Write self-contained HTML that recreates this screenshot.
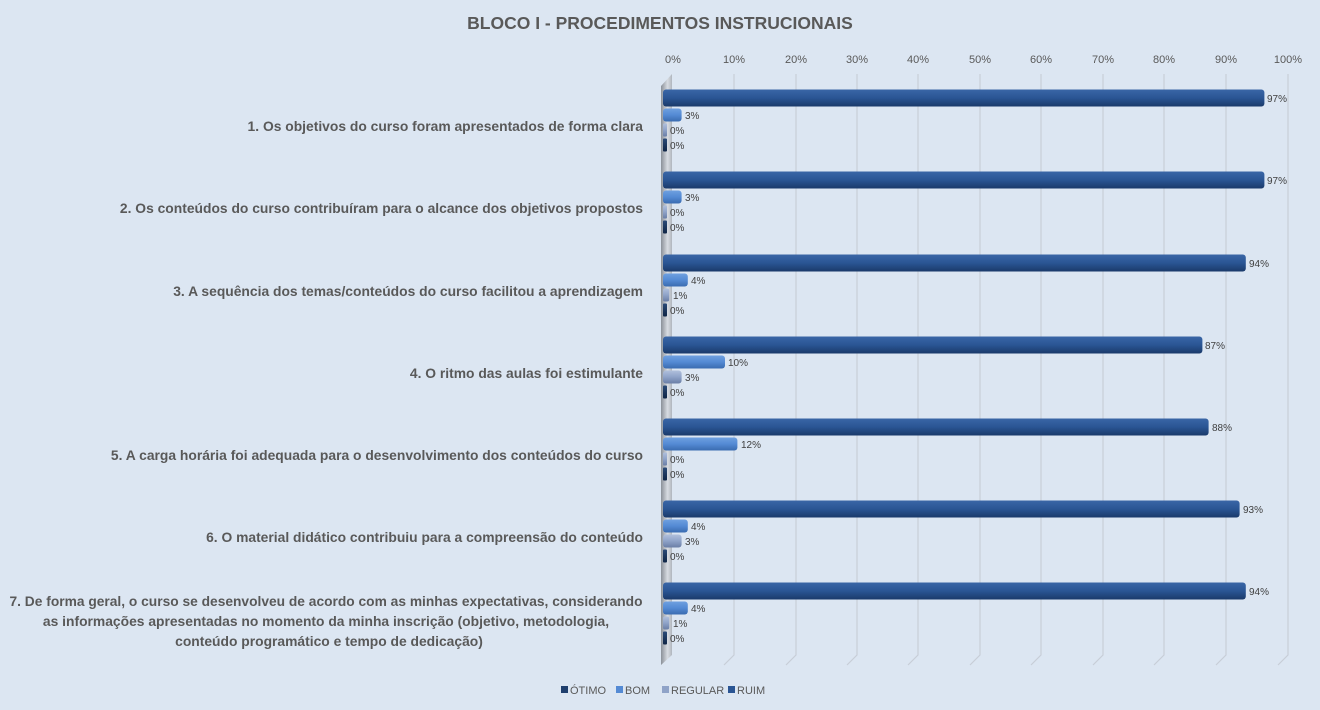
<!DOCTYPE html>
<html><head><meta charset="utf-8"><style>
body{margin:0;background:#dce6f2;}
svg{display:block;font-family:"Liberation Sans",sans-serif;}
</style></head><body>
<svg width="1320" height="710" viewBox="0 0 1320 710" xmlns="http://www.w3.org/2000/svg">
<defs>
<linearGradient id="g0" x1="0" y1="0" x2="0" y2="1"><stop offset="0" stop-color="#3a66a6"/><stop offset="0.5" stop-color="#2a5594"/><stop offset="1" stop-color="#1a3a6a"/></linearGradient>
<linearGradient id="g1" x1="0" y1="0" x2="0" y2="1"><stop offset="0" stop-color="#6fa0e0"/><stop offset="0.5" stop-color="#548ad4"/><stop offset="1" stop-color="#3a6cb0"/></linearGradient>
<linearGradient id="g2" x1="0" y1="0" x2="0" y2="1"><stop offset="0" stop-color="#b0c0dc"/><stop offset="0.5" stop-color="#8fa3c8"/><stop offset="1" stop-color="#6a7ea6"/></linearGradient>
<linearGradient id="g3" x1="0" y1="0" x2="0" y2="1"><stop offset="0" stop-color="#2a4a78"/><stop offset="1" stop-color="#0f2545"/></linearGradient>
<linearGradient id="wall" x1="0" y1="0" x2="1" y2="0"><stop offset="0" stop-color="#8a9098"/><stop offset="0.6" stop-color="#d8dce2"/><stop offset="1" stop-color="#b0b6be"/></linearGradient>
</defs>
<rect width="1320" height="710" fill="#dce6f2"/>
<text x="660" y="29" text-anchor="middle" font-size="17.5" font-weight="bold" fill="#595959">BLOCO I - PROCEDIMENTOS  INSTRUCIONAIS</text>
<g font-size="11" fill="#595959" text-anchor="middle">
<text x="673" y="63">0%</text><text x="734" y="63">10%</text><text x="796" y="63">20%</text><text x="857" y="63">30%</text><text x="918" y="63">40%</text><text x="980" y="63">50%</text><text x="1041" y="63">60%</text><text x="1103" y="63">70%</text><text x="1164" y="63">80%</text><text x="1226" y="63">90%</text><text x="1288" y="63">100%</text>
</g>
<g stroke="#c8ced8" stroke-width="1.2" fill="none">
<path d="M734 74 V655 L724 665"/><path d="M796 74 V655 L786 665"/><path d="M857 74 V655 L847 665"/><path d="M918 74 V655 L908 665"/><path d="M980 74 V655 L970 665"/><path d="M1041 74 V655 L1031 665"/><path d="M1103 74 V655 L1093 665"/><path d="M1164 74 V655 L1154 665"/><path d="M1226 74 V655 L1216 665"/><path d="M1288 74 V655 L1278 665"/>
</g>
<path d="M672 74 V655 L661 665 V86 Z" fill="url(#wall)"/>
<g font-size="10" fill="#404040">
<rect x="663" y="89.5" width="601.4" height="17" rx="3" fill="url(#g0)"/><text x="1267" y="102">97%</text>
<rect x="663" y="108.5" width="18.6" height="13" rx="3" fill="url(#g1)"/><text x="685" y="119">3%</text>
<rect x="663" y="123.5" width="4" height="13" rx="1" fill="url(#g2)"/><text x="670" y="134">0%</text>
<rect x="663" y="138.5" width="4" height="13" rx="1" fill="url(#g3)"/><text x="670" y="149">0%</text>
<rect x="663" y="171.5" width="601.4" height="17" rx="3" fill="url(#g0)"/><text x="1267" y="184">97%</text>
<rect x="663" y="190.5" width="18.6" height="13" rx="3" fill="url(#g1)"/><text x="685" y="201">3%</text>
<rect x="663" y="205.5" width="4" height="13" rx="1" fill="url(#g2)"/><text x="670" y="216">0%</text>
<rect x="663" y="220.5" width="4" height="13" rx="1" fill="url(#g3)"/><text x="670" y="231">0%</text>
<rect x="663" y="254.5" width="582.8" height="17" rx="3" fill="url(#g0)"/><text x="1249" y="267">94%</text>
<rect x="663" y="273.5" width="24.8" height="13" rx="3" fill="url(#g1)"/><text x="691" y="284">4%</text>
<rect x="663" y="288.5" width="6.2" height="13" rx="2" fill="url(#g2)"/><text x="673" y="299">1%</text>
<rect x="663" y="303.5" width="4" height="13" rx="1" fill="url(#g3)"/><text x="670" y="314">0%</text>
<rect x="663" y="336.5" width="539.4" height="17" rx="3" fill="url(#g0)"/><text x="1205" y="349">87%</text>
<rect x="663" y="355.5" width="62" height="13" rx="3" fill="url(#g1)"/><text x="728" y="366">10%</text>
<rect x="663" y="370.5" width="18.6" height="13" rx="3" fill="url(#g2)"/><text x="685" y="381">3%</text>
<rect x="663" y="385.5" width="4" height="13" rx="1" fill="url(#g3)"/><text x="670" y="396">0%</text>
<rect x="663" y="418.5" width="545.6" height="17" rx="3" fill="url(#g0)"/><text x="1212" y="431">88%</text>
<rect x="663" y="437.5" width="74.4" height="13" rx="3" fill="url(#g1)"/><text x="741" y="448">12%</text>
<rect x="663" y="452.5" width="4" height="13" rx="1" fill="url(#g2)"/><text x="670" y="463">0%</text>
<rect x="663" y="467.5" width="4" height="13" rx="1" fill="url(#g3)"/><text x="670" y="478">0%</text>
<rect x="663" y="500.5" width="576.6" height="17" rx="3" fill="url(#g0)"/><text x="1243" y="513">93%</text>
<rect x="663" y="519.5" width="24.8" height="13" rx="3" fill="url(#g1)"/><text x="691" y="530">4%</text>
<rect x="663" y="534.5" width="18.6" height="13" rx="3" fill="url(#g2)"/><text x="685" y="545">3%</text>
<rect x="663" y="549.5" width="4" height="13" rx="1" fill="url(#g3)"/><text x="670" y="560">0%</text>
<rect x="663" y="582.5" width="582.8" height="17" rx="3" fill="url(#g0)"/><text x="1249" y="595">94%</text>
<rect x="663" y="601.5" width="24.8" height="13" rx="3" fill="url(#g1)"/><text x="691" y="612">4%</text>
<rect x="663" y="616.5" width="6.2" height="13" rx="2" fill="url(#g2)"/><text x="673" y="627">1%</text>
<rect x="663" y="631.5" width="4" height="13" rx="1" fill="url(#g3)"/><text x="670" y="642">0%</text>
</g>
<g font-size="13.85" font-weight="bold" fill="#595959" text-anchor="end">
<text x="643" y="131">1. Os objetivos do curso foram apresentados de forma clara</text>
<text x="643" y="213">2. Os conteúdos do curso contribuíram para o alcance dos objetivos propostos</text>
<text x="643" y="296">3. A sequência dos temas/conteúdos do curso facilitou a aprendizagem</text>
<text x="643" y="378">4. O ritmo das aulas foi estimulante</text>
<text x="643" y="460">5. A carga horária foi adequada para o desenvolvimento dos conteúdos do curso</text>
<text x="643" y="542">6. O material didático contribuiu para a compreensão do conteúdo</text>
</g>
<g font-size="13.85" font-weight="bold" fill="#595959" text-anchor="middle">
<text x="326" y="606" textLength="633" lengthAdjust="spacingAndGlyphs">7. De forma geral, o curso se desenvolveu de acordo com as minhas expectativas, considerando</text>
<text x="326" y="626">as informações apresentadas no momento da minha inscrição (objetivo, metodologia,</text>
<text x="329" y="646">conteúdo programático e tempo de dedicação)</text>
</g>
<g font-size="11" fill="#595959">
<rect x="561" y="686" width="7" height="7" fill="#1f3f6e"/><text x="570" y="694">ÓTIMO</text>
<rect x="616" y="686" width="7" height="7" fill="#548ad4"/><text x="625" y="694">BOM</text>
<rect x="662" y="686" width="7" height="7" fill="#8fa3c8"/><text x="671" y="694">REGULAR</text>
<rect x="728" y="686" width="7" height="7" fill="#2a5594"/><text x="737" y="694">RUIM</text>
</g>
</svg>
</body></html>
